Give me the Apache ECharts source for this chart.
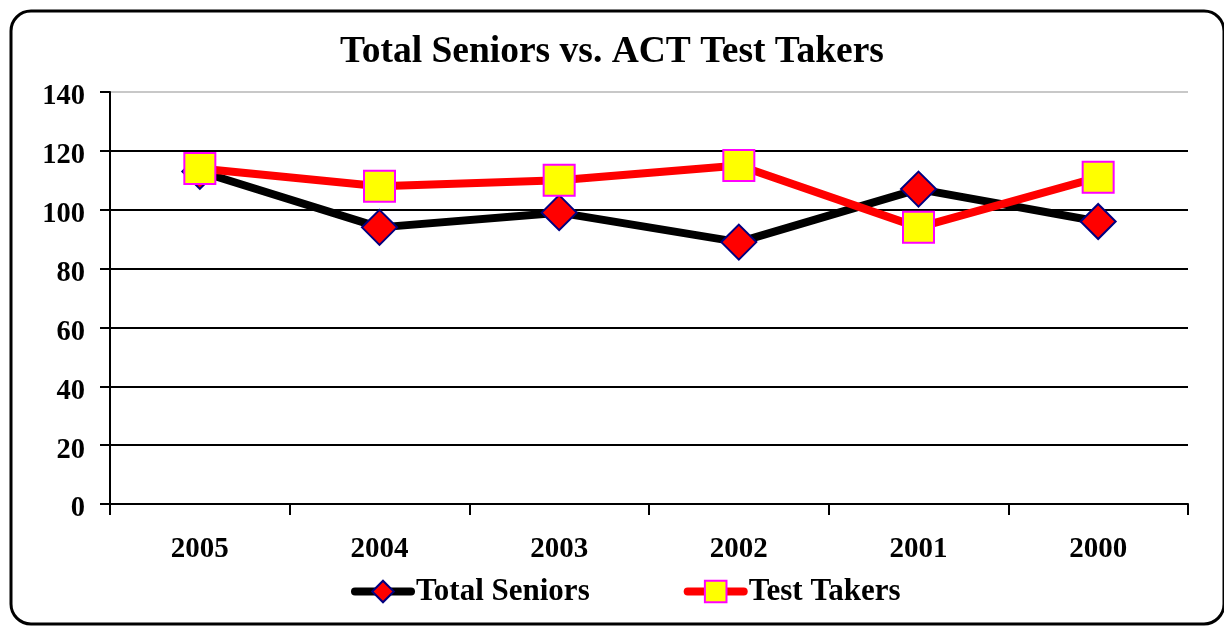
<!DOCTYPE html>
<html>
<head>
<meta charset="utf-8">
<script src="https://cdn.jsdelivr.net/npm/echarts@6/dist/echarts.min.js"></script>
<style>html,body{margin:0;padding:0;background:#fff}#c{width:1224px;height:626px}</style>
</head>
<body>
<div id="c"></div>
<script>
var categories = ['2005', '2004', '2003', '2002', '2001', '2000'];
var totalSeniors = [113, 94, 99, 89, 107, 96];
var testTakers = [114, 108, 110, 115, 94, 111];
var yTicks = [0, 20, 40, 60, 80, 100, 120, 140];

var font = '"Liberation Serif", "Times New Roman", serif';
var chart = echarts.init(document.getElementById('c'));
chart.setOption({
  backgroundColor: '#fff',
  animation: false,
  title: {
    text: 'Total Seniors vs. ACT Test Takers',
    left: 'center', top: 28,
    textStyle: { fontFamily: font, fontSize: 37.5, fontWeight: 'bold', color: '#000' }
  },
  legend: {
    top: 571, left: 346,
    itemGap: 94, itemWidth: 56, itemHeight: 27,
    lineStyle: { width: 8, cap: 'round' },
    textStyle: { fontFamily: font, fontSize: 31, fontWeight: 'bold', color: '#000' },
    data: ['Total Seniors', 'Test Takers']
  },
  grid: { left: 110, right: 36, top: 92, bottom: 122 },
  graphic: [{
    type: 'rect', silent: true, z: 100,
    shape: { x: 11, y: 11, width: 1213, height: 613, r: 20 },
    style: { fill: 'none', stroke: '#000', lineWidth: 3 }
  }],
  xAxis: {
    type: 'category', data: categories, boundaryGap: true,
    axisLine: { lineStyle: { color: '#000', width: 2 } },
    axisTick: { show: true, length: 11, lineStyle: { color: '#000', width: 2 } },
    axisLabel: { margin: 31, fontFamily: font, fontSize: 29, fontWeight: 'bold', color: '#000' },
    splitLine: { show: false }
  },
  yAxis: {
    type: 'value', min: 0, max: 140, interval: 20,
    axisLine: { show: true, lineStyle: { color: '#000', width: 2 } },
    axisTick: { show: true, length: 10, lineStyle: { color: '#000', width: 2 } },
    axisLabel: { margin: 25, color: '#000',
      formatter: function (v) { return yTicks.indexOf(v) >= 0 ? '{v|' + v + '}' : ''; },
      rich: { v: { fontFamily: font, fontSize: 28.5, fontWeight: 'bold', color: '#000', padding: [10, 0, 0, 0] } } },
    splitLine: { show: true, lineStyle: { color: ['#000','#000','#000','#000','#000','#000','#000','#c8c8c8'], width: 2 } }
  },
  series: [{
    name: 'Total Seniors', type: 'line', data: totalSeniors,
    symbol: 'diamond', symbolSize: 35,
    lineStyle: { color: '#000', width: 8 },
    itemStyle: { color: '#ff0000', borderColor: '#000080', borderWidth: 2 },
    z: 2
  }, {
    name: 'Test Takers', type: 'line', data: testTakers,
    symbol: 'rect', symbolSize: 31,
    lineStyle: { color: '#ff0000', width: 8 },
    itemStyle: { color: '#ffff00', borderColor: '#ff00ff', borderWidth: 2 },
    z: 3
  }]
});
</script>
</body>
</html>
